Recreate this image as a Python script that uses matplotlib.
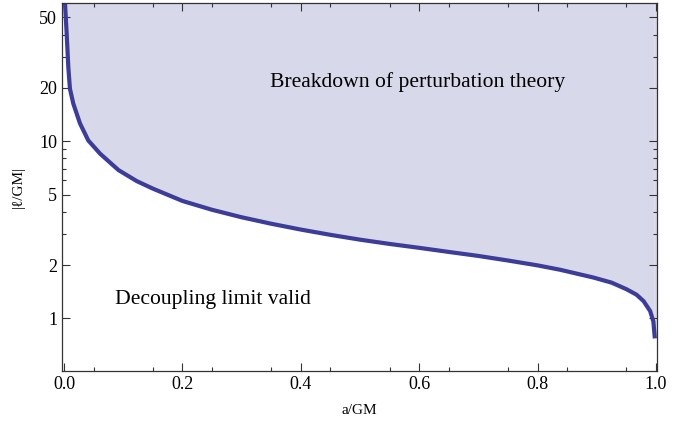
import numpy as np
import matplotlib
matplotlib.use('Agg')
import matplotlib.pyplot as plt
from matplotlib.ticker import FixedLocator, NullFormatter

plt.rcParams['font.family'] = ['Liberation Serif', 'DejaVu Serif']

# Curva limite |l/GM| em função de a/GM
a_gm = [0.0017, 0.003, 0.0045, 0.0073, 0.010, 0.0157, 0.027, 0.041, 0.061,
        0.092, 0.123, 0.15, 0.20, 0.25, 0.30, 0.35, 0.40, 0.45, 0.50,
        0.55, 0.60, 0.65, 0.70, 0.75, 0.80, 0.838, 0.894, 0.925, 0.950,
        0.967, 0.979, 0.990, 0.9955, 0.998]
l_gm = [60, 50, 40.5, 26.2, 19.8, 16.3, 12.6, 10.1, 8.5,
        6.87, 5.95, 5.4, 4.6, 4.1, 3.72, 3.42, 3.17, 2.96, 2.78,
        2.63, 2.50, 2.37, 2.25, 2.12, 1.99, 1.88, 1.70, 1.59, 1.46,
        1.36, 1.25, 1.10, 0.96, 0.77]

y_ticks = [1, 2, 5, 10, 20, 50]
y_minor = [3, 4, 6, 7, 8, 9, 30, 40]
x_ticks = [0.0, 0.2, 0.4, 0.6, 0.8, 1.0]

cor_linha = '#3d3d99'
cor_preench = '#d8d8eb'

fig = plt.figure(figsize=(6.88, 4.23), dpi=100)
ax = fig.add_axes([0.0901, 0.1236, 0.955 - 0.0901, 0.992 - 0.1236])

ax.fill_between(a_gm, l_gm, 1000, color=cor_preench, linewidth=0)
ax.fill_between([a_gm[-1], 1.01], [l_gm[-1], l_gm[-1]], 1000,
                color=cor_preench, linewidth=0)
ax.plot(a_gm, l_gm, color=cor_linha, linewidth=3, solid_capstyle='butt',
        solid_joinstyle='round')

ax.set_yscale('log')
ax.set_xlim(-0.0034, 1.0017)
ax.set_ylim(0.506, 60)

ax.set_yticks(y_ticks)
ax.set_yticklabels([str(v) for v in y_ticks])
ax.yaxis.set_minor_locator(FixedLocator(y_minor))
ax.yaxis.set_minor_formatter(NullFormatter())
ax.set_xticks(x_ticks)
ax.set_xticklabels(['%.1f' % v for v in x_ticks])
ax.xaxis.set_minor_locator(FixedLocator(np.arange(0.05, 1.0, 0.1)))

ax.tick_params(which='both', direction='in', top=True, right=True,
               labelsize=13, width=0.8, colors='#333333', labelcolor='black')
ax.tick_params(which='major', length=6)
ax.tick_params(which='minor', length=3)
for s in ax.spines.values():
    s.set_linewidth(0.9)
    s.set_color('#333333')

ax.set_xlabel('a/GM', fontsize=11, labelpad=8)
ax.set_ylabel('|ℓ/GM|', fontsize=11, labelpad=10)

ax.text(0.598, 21.5, 'Breakdown of perturbation theory', fontsize=15.6,
        ha='center', va='center')
ax.text(0.251, 1.27, 'Decoupling limit valid', fontsize=15.6,
        ha='center', va='center')

fig.savefig('out.png', dpi=100)
